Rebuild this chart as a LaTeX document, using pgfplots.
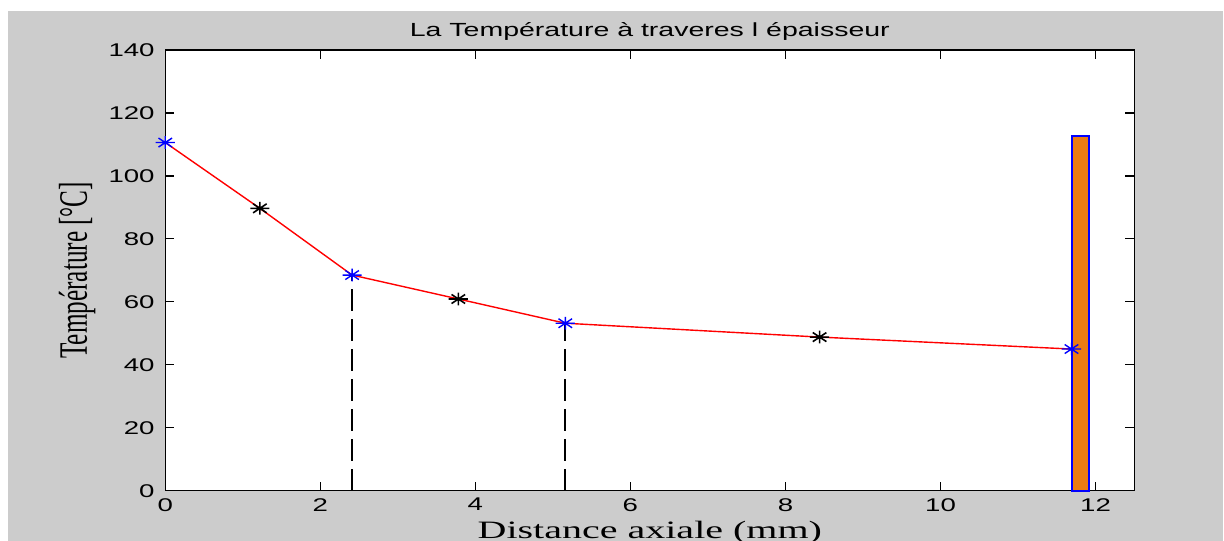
\documentclass[border=0pt]{standalone}
\usepackage{fontspec}
\usepackage{graphicx}
\usepackage{pgfplots}
\pgfplotsset{compat=1.18}
\newfontfamily\lsans{Liberation Sans}
\newfontfamily\lserif{Liberation Serif}
\definecolor{figgray}{RGB}{204,204,204}
\definecolor{barorange}{RGB}{236,124,20}
% the reference is stretched sideways, so is the text
\newcommand\hs[1]{\scalebox{1.5}[1]{#1}}

% matlab-like '*' marker
\pgfdeclareplotmark{mstar}{%
  \pgfpathmoveto{\pgfqpoint{-\pgfplotmarksize}{0pt}}%
  \pgfpathlineto{\pgfqpoint{\pgfplotmarksize}{0pt}}%
  \pgfpathmoveto{\pgfqpoint{0pt}{-\pgfplotmarksize}}%
  \pgfpathlineto{\pgfqpoint{0pt}{\pgfplotmarksize}}%
  \pgfpathmoveto{\pgfqpoint{-.707\pgfplotmarksize}{-.707\pgfplotmarksize}}%
  \pgfpathlineto{\pgfqpoint{.707\pgfplotmarksize}{.707\pgfplotmarksize}}%
  \pgfpathmoveto{\pgfqpoint{-.707\pgfplotmarksize}{.707\pgfplotmarksize}}%
  \pgfpathlineto{\pgfqpoint{.707\pgfplotmarksize}{-.707\pgfplotmarksize}}%
  \pgfusepathqstroke}

\begin{document}
\begin{tikzpicture}
\fill[white] (-82.65bp,-25.15bp) rectangle (529.35bp,245.35bp);
\useasboundingbox (-82.65bp,-25.15bp) rectangle (529.35bp,245.35bp);
\fill[figgray] (-78.65bp,-25.15bp) rectangle (528.85bp,239.85bp);
\begin{axis}[
  at={(0,0)}, anchor=south west,
  scale only axis, width=484.5bp, height=220.35bp,
  xmin=0, xmax=12.5, ymin=0, ymax=140,
  xtick={0,2,...,12}, ytick={0,20,...,140},
  clip=false,
  axis background/.style={fill=white},
  axis line style={black, line width=0.6bp},
  tick align=inside, major tick length=4.5bp,
  tick style={black, line width=0.6bp},
  ticklabel style={font=\lsans\fontsize{9.2bp}{10bp}\selectfont, inner sep=0pt},
  xticklabel={\hs{\pgfmathprintnumber[assume math mode=true]{\tick}}},
  yticklabel={\hs{\pgfmathprintnumber[assume math mode=true]{\tick}}},
  xticklabel shift=3.6bp, yticklabel shift=5.15bp,
  title={\hs{La Température à traveres l épaisseur}},
  title style={font=\lsans\fontsize{9.5bp}{11bp}\selectfont,
    at={(axis description cs:0.5,1)}, anchor=base, yshift=0.8bp},
  xlabel={\scalebox{1.6}[1]{Distance axiale (mm)}},
  xlabel style={font=\lserif\fontsize{12.5bp}{14bp}\selectfont,
    at={(axis description cs:0.5,0)}, anchor=base, yshift=-23.8bp},
  ylabel={\scalebox{1}[1.6]{Température [°C]}},
  ylabel style={font=\lserif\fontsize{12.6bp}{14bp}\selectfont,
    at={(axis description cs:-0.0809,0.5)}, anchor=base},
]
% temperature profile
\addplot[red, line width=0.7bp, mark=none] coordinates {
  (0,110.6) (1.22,89.7) (2.41,68.5) (3.78,60.9) (5.16,53.2) (8.44,48.8) (11.69,45.0)};
% interfaces (dashed)
\addplot[black, line width=1.1bp, dash pattern=on 11bp off 4bp] coordinates {(2.41,0) (2.41,68.5)};
\addplot[black, line width=1.1bp, dash pattern=on 11bp off 4bp] coordinates {(5.16,0) (5.16,53.2)};
% nodes at interfaces
\addplot[only marks, blue, mark=mstar, mark size=3.2bp, mark options={xscale=1.5, line width=0.7bp}]
  coordinates {(0,110.6) (2.41,68.5) (5.16,53.2) (11.69,45.0)};
% mid-layer points
\addplot[only marks, black, mark=mstar, mark size=3.2bp, mark options={xscale=1.5, line width=0.8bp}]
  coordinates {(1.22,89.7) (3.78,60.9) (8.44,48.8)};
% bar at the outer wall
\addplot[ybar, bar width=0.22, bar shift=0pt, draw=blue, fill=barorange, line width=1bp]
  coordinates {(11.81,112.8)};
\end{axis}
\end{tikzpicture}
\end{document}
